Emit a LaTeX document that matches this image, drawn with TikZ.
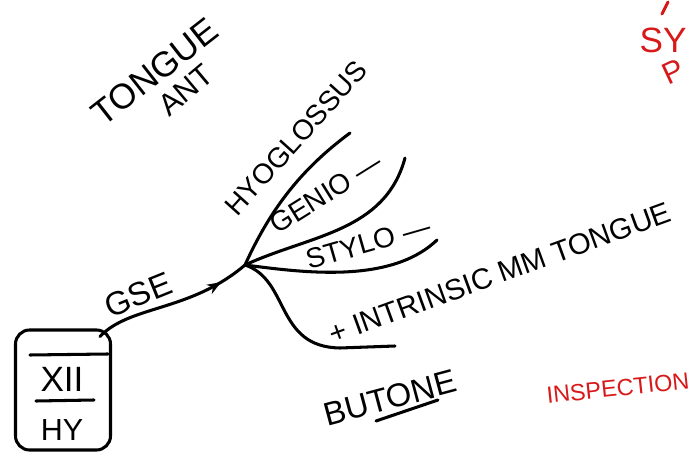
\documentclass[tikz,border=0pt]{standalone}
\usepackage{fontspec}
\setmainfont{Liberation Sans}
\usetikzlibrary{arrows.meta, calc, decorations.markings}
\definecolor{marker}{RGB}{215,25,25}

\tikzset{
  ink/.style={line width=2.6pt, line cap=round, line join=round},
  scrawl/.style={font=\fontsize{#1}{#1}\selectfont, inner sep=0pt},
  midarrow/.style={decoration={markings, mark=at position #1 with {\arrow{Stealth[length=12pt,width=9pt]}}}, postaction={decorate}}
}

\begin{document}
\begin{tikzpicture}[x=0.03cm, y=-0.03cm]
\useasboundingbox (0,0) rectangle (691,455);
\clip (0,0) rectangle (691,455);

% Headline
\node[scrawl=30, rotate=38] (tongue) at (155,72) {TONGUE};
\node[scrawl=26, rotate=40] (ant) at (186,90) {ANT};

% Nucleus box
\node[draw, ink, rounded corners=12pt, minimum width=2.85cm, minimum height=3.6cm] (hy) at (63,390) {};
\draw[ink] (30,355) -- (108,354);
\node[scrawl=30] (xii) at (62,379) {XII};
\draw[ink] (36,401) -- (94,400);
\node[scrawl=26] (hyl) at (62,430) {HY};

% Efferent fibre
\coordinate (hub) at (245,265);
\draw[ink, midarrow=0.82] (hy.north east) ++(-12,8) .. controls (130,305) and (190,312) .. (hub);
\node[scrawl=28, rotate=22] (gse) at (138,295) {GSE};

% Branches
\coordinate (hyoend) at (350,133);
\coordinate (genend) at (405,158);
\coordinate (styend) at (437,240);
\coordinate (intend) at (395,346);
\draw[ink] (hub) .. controls (270,210) and (300,170) .. (hyoend);
\draw[ink] (hub) .. controls (310,235) and (385,232) .. (genend);
\draw[ink] (hub) .. controls (300,272) and (390,285) .. (styend);
\draw[ink] (hub) .. controls (290,280) and (275,347) .. (340,348) -- (intend);

% Branch labels
\node[scrawl=24, rotate=48] (hyo) at (296,138) {HYOGLOSSUS};
\node[scrawl=24, rotate=32] (gen) at (326,193) {GENIO —};
\node[scrawl=24, rotate=16] (sty) at (368,243) {STYLO —};
\node[scrawl=25, rotate=20] (intr) at (500,273) {+ INTRINSIC MM TONGUE};

% Others
\node[scrawl=28, rotate=15] (bu) at (390,398) {BUTONE};
\draw[ink] (376,421) -- (438,400);

% Red notes
\begin{scope}[marker]
\node[scrawl=20, rotate=6] (insp) at (618,388) {INSPECTION};
\node[scrawl=30] (sy) at (663,40) {SY};
\node[scrawl=26, rotate=25] (pp) at (673,72) {P};
\draw[ink] (662,14) -- (668,2);
\end{scope}
\end{tikzpicture}
\end{document}
